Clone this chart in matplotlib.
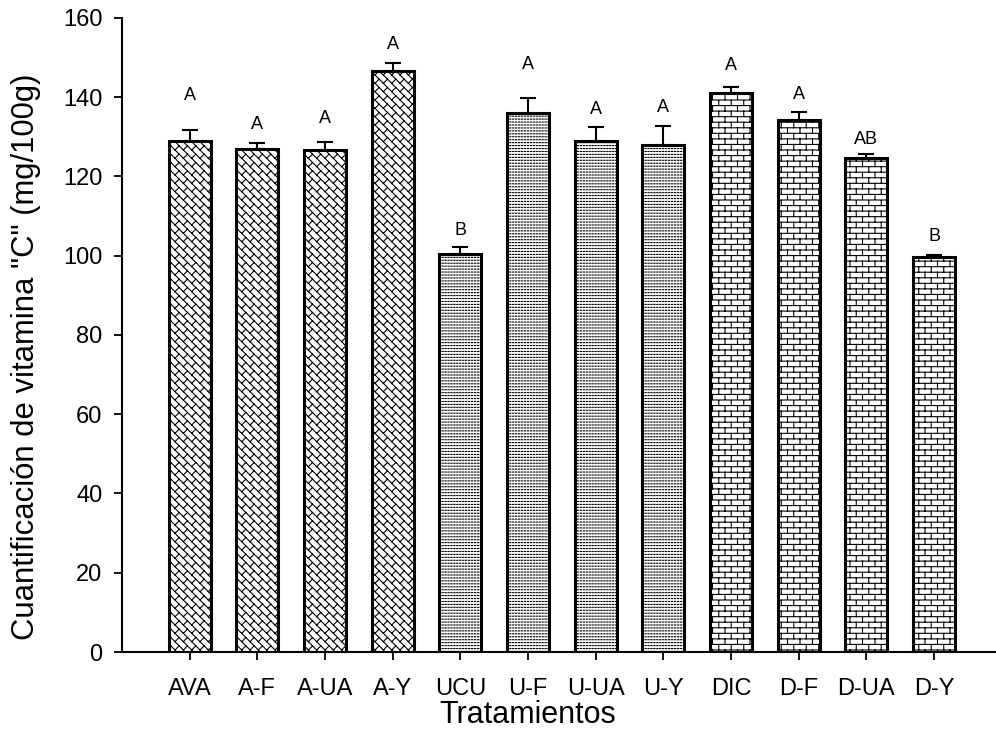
import warnings
import numpy as np
import matplotlib
matplotlib.use("Agg")
import matplotlib.pyplot as plt
import matplotlib.hatch as mhatch
from matplotlib.path import Path

warnings.filterwarnings("ignore")

# ---------------- data ----------------
categories = ["AVA", "A-F", "A-UA", "A-Y", "UCU", "U-F", "U-UA", "U-Y",
              "DIC", "D-F", "D-UA", "D-Y"]
values = [129.0, 127.0, 126.7, 146.5, 100.5, 136.0, 129.0, 128.0,
          141.0, 134.3, 124.7, 99.6]
errors = [2.8, 1.5, 1.9, 2.0, 1.7, 3.7, 3.4, 4.8, 1.6, 2.0, 0.9, 0.6]
letters = ["A", "A", "A", "A", "B", "A", "A", "A", "A", "A", "AB", "B"]
letter_y = [141.0, 133.5, 135.0, 153.7, 106.9, 148.6, 137.3, 137.8,
            148.4, 141.2, 129.7, 105.2]
groups = ["A", "A", "A", "A", "U", "U", "U", "U", "D", "D", "D", "D"]
yticks = [0, 20, 40, 60, 80, 100, 120, 140, 160]
xlabel = "Tratamientos"
ylabel = 'Cuantificación de vitamina "C" (mg/100g)'


# ---------------- custom hatch patterns ----------------
class _SegHatch(mhatch.HatchPatternBase):
    char = None

    def __init__(self, hatch, density):
        self.active = self.char is not None and hatch is not None and self.char in hatch
        self.segs = self.build() if self.active else []
        self.num_vertices = 2 * len(self.segs)

    def build(self):
        return []

    def set_vertices_and_codes(self, vertices, codes):
        v = np.asarray(self.segs, dtype=float).reshape(-1, 2)
        vertices[:] = v
        codes[0::2] = Path.MOVETO
        codes[1::2] = Path.LINETO


class BrickHatch(_SegHatch):
    char = "k"

    def build(self):
        rows, cols = 18, 8
        h, w = 1.0 / rows, 1.0 / cols
        segs = []
        for r in range(rows + 1):
            segs.append(((-0.05, r * h), (1.05, r * h)))
        for r in range(rows):
            off = w / 2 if r % 2 else 0.0
            for c in range(-1, cols + 2):
                xv = c * w + off
                if -0.05 <= xv <= 1.05:
                    segs.append(((xv, r * h), (xv, (r + 1) * h)))
        return segs


class DiagBrickHatch(_SegHatch):
    char = "z"

    def build(self):
        n, m = 12, 6
        segs = []
        for k in range(-1, 2 * n + 2):
            u = k / n
            segs.append((((u + 2) / 2, (u - 2) / 2), ((u - 2) / 2, (u + 2) / 2)))
        for k in range(-2, 2 * n + 2):
            u0, u1 = k / n, (k + 1) / n
            off = (0.5 / m) if k % 2 else 0.0
            for j in range(-m - 2, m + 3):
                v = j / m + off
                segs.append((((u0 + v) / 2, (u0 - v) / 2), ((u1 + v) / 2, (u1 - v) / 2)))
        return segs


class DotHatch(_SegHatch):
    char = "d"

    def build(self):
        n = 34
        s = 0.2 / n
        segs = []
        for i in range(n):
            for j in range(n):
                xv = (i + 0.5) / n
                yv = (j + 0.5) / n
                segs.append(((xv - s, yv), (xv + s, yv)))
        return segs


mhatch._hatch_types.extend([BrickHatch, DiagBrickHatch, DotHatch])

hatch_for = {"A": "z", "U": "d", "D": "k"}

# ---------------- figure ----------------
plt.rcParams["font.family"] = ["Liberation Sans", "DejaVu Sans"]
plt.rcParams["hatch.linewidth"] = 0.8

fig = plt.figure(figsize=(9.96, 7.46), dpi=100)
ax = fig.add_axes([0.1225, 0.126, 0.8765, 0.85])

x = np.arange(len(categories))
for xi, v, g in zip(x, values, groups):
    ax.bar(xi, v, width=0.62, facecolor="white", edgecolor="black",
           linewidth=2.2, hatch=hatch_for[g], zorder=2)

ax.errorbar(x, values, yerr=[np.zeros(len(values)), errors], fmt="none",
            ecolor="black", elinewidth=1.5, capsize=6, capthick=1.5, zorder=3)

for xi, lt, ly in zip(x, letters, letter_y):
    ax.text(xi, ly - 1.6, lt, ha="center", va="baseline", fontsize=13)

ax.set_xlim(-1.0, 11.9)
ax.set_ylim(0, 160)
ax.set_yticks(yticks)
ax.set_xticks(x)
ax.set_xticklabels(categories)

for side in ("top", "right"):
    ax.spines[side].set_visible(False)
for side in ("left", "bottom"):
    ax.spines[side].set_linewidth(1.5)

ax.tick_params(axis="both", direction="out", length=6, width=1.3,
               labelsize=17)
ax.tick_params(axis="y", pad=8)
ax.tick_params(axis="x", pad=13)

ax.set_xlabel(xlabel, fontsize=22)
ax.set_ylabel(ylabel, fontsize=22.3)
ax.xaxis.set_label_coords(0.465, -0.099)
ax.xaxis.label.set_va("center")
ax.yaxis.set_label_coords(-0.11, 0.465)
ax.yaxis.label.set_va("center")

fig.savefig("out.png", dpi=100)
